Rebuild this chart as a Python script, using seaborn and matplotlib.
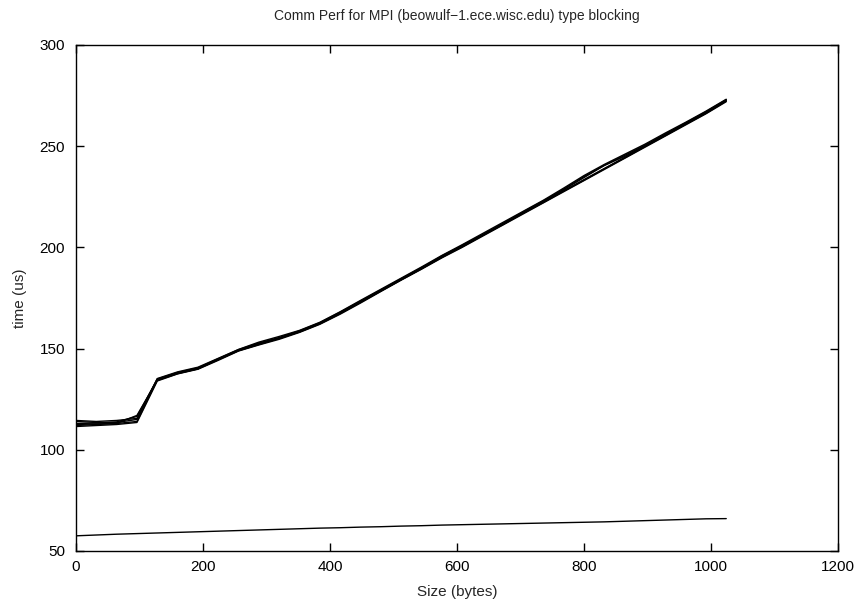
import numpy as np
import pandas as pd
import matplotlib
matplotlib.use("Agg")
import matplotlib.pyplot as plt
import seaborn as sns

sizes = list(range(0, 1025, 32))

run1 = [112.5, 112.8, 113.0, 114.0, 134.5, 137.8, 140.0, 144.5, 149.0, 152.0, 155.0,
        158.5, 162.5, 167.5, 173.0, 178.5, 184.0, 189.5, 195.0, 200.5, 206.0, 211.5,
        217.0, 222.5, 228.0, 233.5, 239.0, 244.5, 250.0, 255.5, 261.0, 266.5, 272.5]
run2 = [114.0, 113.5, 113.5, 115.0, 135.0, 138.2, 140.5, 145.0, 149.5, 152.8, 155.5,
        158.8, 162.8, 168.0, 173.5, 179.0, 184.5, 190.0, 195.5, 201.0, 206.3, 211.8,
        217.5, 223.0, 228.5, 234.5, 240.5, 245.5, 250.5, 256.0, 261.5, 267.0, 273.0]
run3 = [111.5, 112.0, 112.5, 113.5, 134.0, 137.5, 139.8, 144.2, 148.8, 151.8, 154.6,
        158.0, 162.0, 167.0, 172.5, 178.2, 183.8, 189.2, 194.8, 200.0, 205.5, 211.0,
        216.5, 222.0, 227.5, 233.0, 238.5, 244.0, 249.5, 255.0, 260.5, 266.0, 272.0]
run4 = [113.0, 113.2, 113.8, 116.5, 134.8, 138.0, 140.2, 144.8, 149.2, 152.5, 155.2,
        158.3, 162.4, 167.8, 173.2, 178.8, 184.2, 189.8, 195.8, 200.8, 206.0, 211.5,
        217.2, 222.8, 228.8, 235.0, 240.5, 245.0, 250.2, 255.8, 261.2, 266.8, 272.8]
run5 = [112.0, 112.5, 113.0, 117.0, 134.3, 137.6, 140.0, 144.6, 149.0, 152.2, 155.0,
        158.2, 162.2, 167.3, 172.8, 178.4, 184.0, 189.4, 195.2, 200.2, 205.8, 211.2,
        216.8, 222.2, 227.8, 233.2, 238.8, 244.2, 249.8, 255.2, 260.8, 266.2, 272.3]
run6 = [114.5, 114.0, 114.5, 115.5, 135.2, 138.5, 140.8, 145.2, 149.6, 153.2, 156.0,
        159.0, 163.0, 168.2, 173.8, 179.3, 184.8, 190.3, 196.0, 201.3, 206.8, 212.3,
        217.8, 223.3, 229.3, 235.5, 241.0, 246.0, 251.0, 256.5, 261.8, 267.3, 273.2]
lower = [57.5, 57.9, 58.3, 58.6, 58.9, 59.2, 59.5, 59.8, 60.1, 60.4, 60.7, 61.0, 61.3,
         61.5, 61.8, 62.0, 62.3, 62.5, 62.8, 63.0, 63.2, 63.4, 63.6, 63.8, 64.0, 64.2,
         64.4, 64.7, 65.0, 65.3, 65.6, 65.9, 66.0]

series = {"run1": run1, "run2": run2, "run3": run3, "run4": run4,
          "run5": run5, "run6": run6, "lower": lower}

frames = []
for name, vals in series.items():
    frames.append(pd.DataFrame({"size": sizes, "time": vals, "series": name}))
df = pd.concat(frames, ignore_index=True)

sns.set_theme(style="white")
plt.rcParams["font.family"] = ["Liberation Sans", "DejaVu Sans"]

fig = plt.figure(figsize=(8.58, 6.02), dpi=100)
ax = fig.add_axes([76 / 858, 1 - 551 / 602, (838 - 76) / 858, (551 - 45) / 602])

sns.lineplot(data=df, x="size", y="time", hue="series",
             palette=["black"] * len(series), linewidth=1.0, legend=False,
             ax=ax, estimator=None, sort=False)

ax.set_xlim(0, 1200)
ax.set_ylim(50, 300)
ax.set_xticks(range(0, 1201, 200))
ax.set_yticks(range(50, 301, 50))
ax.tick_params(axis="both", which="both", direction="in", length=5.5, width=1,
               colors="black", labelsize=11, top=True, right=True,
               bottom=True, left=True)
ax.tick_params(axis="x", pad=6.5)
ax.tick_params(axis="y", pad=8)
for sp in ax.spines.values():
    sp.set_color("black")
    sp.set_linewidth(1.0)
    sp.set_visible(True)

ax.set_xlabel("Size (bytes)", fontsize=11, labelpad=8)
ax.set_ylabel("time (us)", fontsize=11, labelpad=9)
ax.set_title("Comm Perf for MPI (beowulf\u22121.ece.wisc.edu) type blocking",
             fontsize=10, pad=18)

fig.savefig("out.png", dpi=100)
